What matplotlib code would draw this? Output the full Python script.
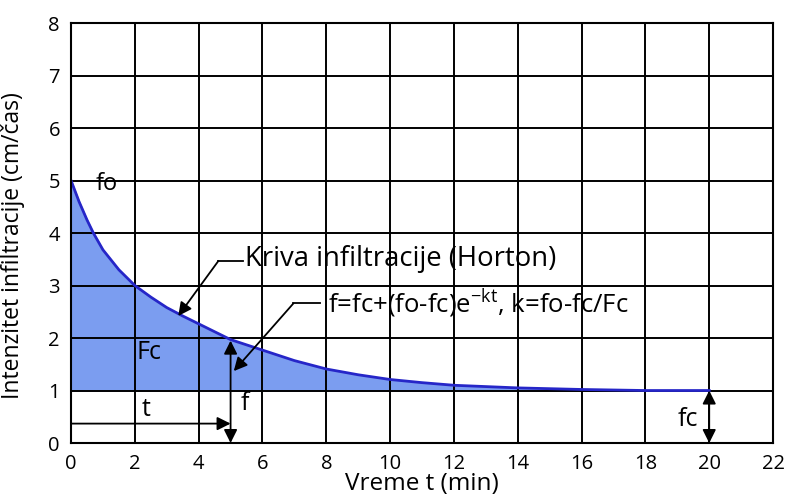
import numpy as np
import matplotlib.pyplot as plt

plt.rcParams['font.family'] = ['Open Sans', 'DejaVu Sans']
plt.rcParams['mathtext.fontset'] = 'custom'
plt.rcParams['mathtext.rm'] = 'Open Sans'

# Horton infiltration curve
t_min = [0, 0.25, 0.5, 0.7, 1, 1.5, 2, 2.5, 3, 3.5, 4, 5, 6, 7, 8, 9, 10, 11, 12, 14, 16, 18, 20]
f_rate = [5.0, 4.6, 4.25, 4.0, 3.68, 3.3, 3.0, 2.78, 2.58, 2.42, 2.27, 1.97, 1.77, 1.57,
          1.41, 1.3, 1.21, 1.15, 1.1, 1.05, 1.02, 1.0, 1.0]
fc_value = 1.0
x_ticks = list(range(0, 23, 2))
y_ticks = list(range(0, 9))

# %%
fig = plt.figure(figsize=(7.91, 4.95), dpi=100)
ax = fig.add_axes([0.0898, 0.105, 0.8875, 0.8485])

ax.fill_between(t_min, f_rate, fc_value, color='#7b9df0', zorder=1)
ax.plot(t_min, f_rate, color='#2626c8', lw=2, zorder=3)

ax.set_xlim(0, 22)
ax.set_ylim(0, 8)
ax.set_xticks(x_ticks)
ax.set_yticks(y_ticks)
ax.grid(color='k', lw=1.4, zorder=2)
ax.set_axisbelow(False)
for s in ax.spines.values():
    s.set_linewidth(1.5)
    s.set_zorder(4)
ax.tick_params(axis='both', length=0, labelsize=14.5, pad=8)
ax.set_xlabel('Vreme t (min)', fontsize=17.5)
ax.set_ylabel('Intenzitet infiltracije (cm/čas)', fontsize=16.5)
ax.xaxis.set_label_coords(0.5, -0.07)
ax.yaxis.set_label_coords(-0.066, 0.47)

# labels
ax.text(0.78, 4.93, 'fo', fontsize=17, va='center', zorder=5)
ax.text(2.05, 1.73, 'Fc', fontsize=18, va='center', zorder=5)
ax.text(5.3, 0.76, 'f', fontsize=18, va='center', zorder=5)
ax.text(2.2, 0.63, 't', fontsize=18, va='center', zorder=5)
ax.text(19.0, 0.44, 'fc', fontsize=18, va='center', zorder=5)

ax.text(5.45, 3.5, 'Kriva infiltracije (Horton)', fontsize=19.8, va='center', zorder=5)
ax.text(8.05, 2.66, r'f=fc+(fo-fc)e$^{\mathregular{-kt}}$, k=fo-fc/Fc', fontsize=18.5,
        va='center', zorder=5)

arrow = dict(arrowstyle='-|>', color='k', lw=1.3, mutation_scale=20, shrinkA=0, shrinkB=0)
both = dict(arrowstyle='<|-|>', color='k', lw=1.3, mutation_scale=20, shrinkA=0, shrinkB=0)

# leader to the curve
ax.plot([4.62, 5.38], [3.47, 3.47], color='k', lw=1.3, zorder=5)
ax.annotate('', xy=(3.36, 2.42), xytext=(4.62, 3.47), arrowprops=arrow, zorder=5)
# leader to the formula
ax.plot([6.97, 7.8], [2.66, 2.66], color='k', lw=1.3, zorder=5)
ax.annotate('', xy=(5.1, 1.37), xytext=(6.97, 2.66), arrowprops=arrow, zorder=5)

# f at t=5, t arrow, fc at t=20
ax.annotate('', xy=(5, 0), xytext=(5, 1.95), arrowprops=both, annotation_clip=False, zorder=5)
ax.annotate('', xy=(5, 0.37), xytext=(0, 0.37), arrowprops=arrow, zorder=5)
ax.annotate('', xy=(20, 0), xytext=(20, 1.0), arrowprops=both, annotation_clip=False, zorder=5)

plt.savefig('out.png', dpi=100)
